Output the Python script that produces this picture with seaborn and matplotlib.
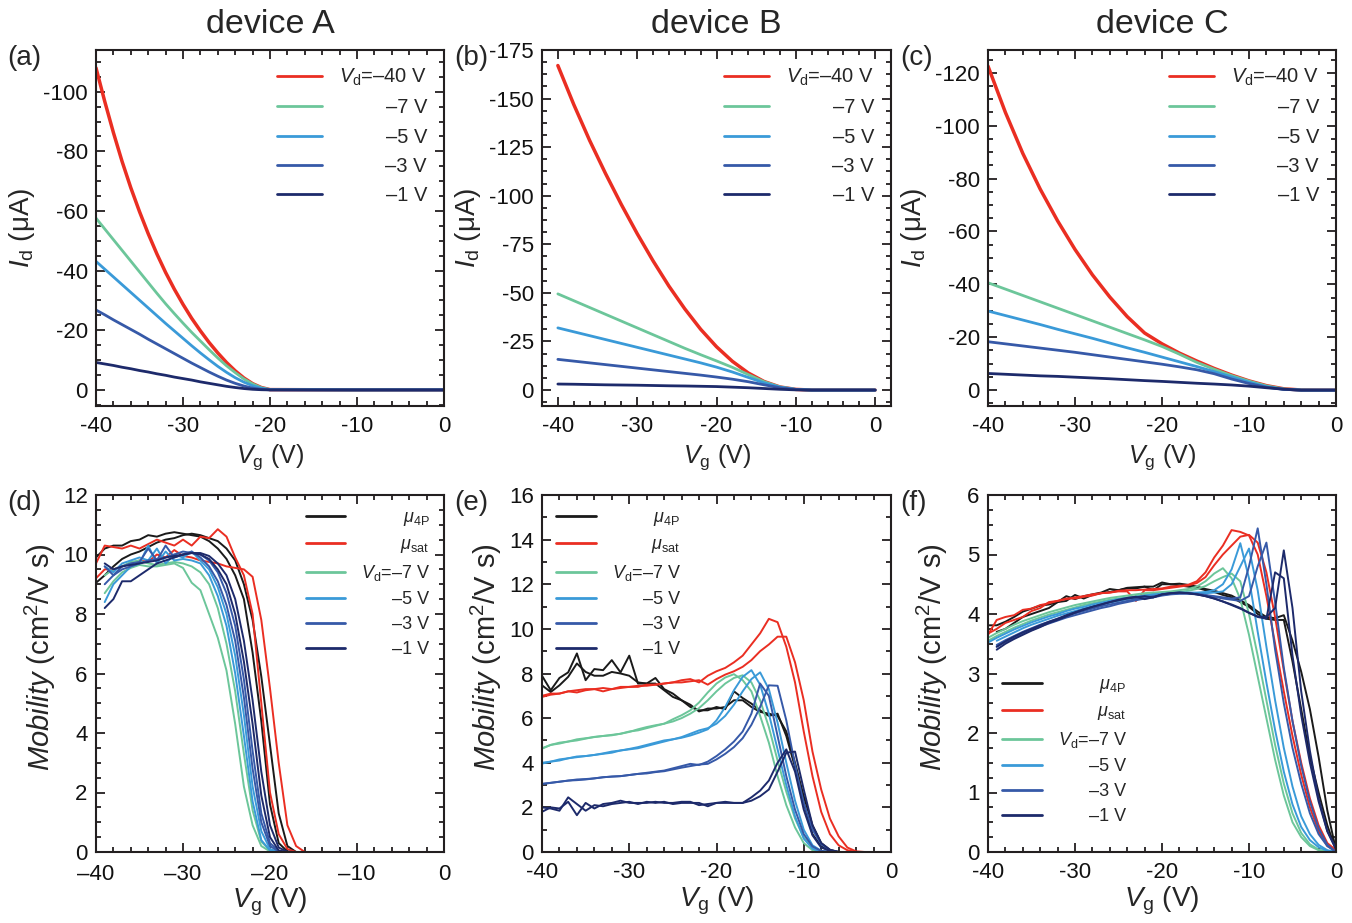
import numpy as np
import pandas as pd
import matplotlib
matplotlib.use("Agg")
import matplotlib.pyplot as plt
import seaborn as sns
from matplotlib.lines import Line2D
from matplotlib.ticker import MultipleLocator, FuncFormatter

sns.set_style("ticks")
plt.rcParams["font.family"] = ["Liberation Sans", "DejaVu Sans"]
plt.rcParams["mathtext.fontset"] = "custom"
plt.rcParams["mathtext.rm"] = "Liberation Sans"
plt.rcParams["mathtext.it"] = "Liberation Sans:italic"
plt.rcParams["mathtext.bf"] = "Liberation Sans:bold"
plt.rcParams["axes.unicode_minus"] = False

nan = np.nan

# ---------------- colours ----------------
C_BLACK = "#1a1a1a"
C_RED = "#ea2e22"
C_GREEN = "#6cc69a"
C_LBLUE = "#3a9ad8"
C_BLUE = "#3659a8"
C_NAVY = "#1d2a6b"

# ---------------- top row: transfer curves (Id in uA) ----------------
VG_A = list(range(-40, -19)) + [-10, 0]
ID_A_40 = [-108, -96.8, -86.3, -76.6, -67.8, -59.8, -52.4, -45.6, -39.4, -33.8, -28.7, -24.0, -19.8, -15.9, -12.4, -9.2, -6.4, -4.0, -2.1, -0.8, -0.1, 0, 0]
ID_A_7 = [-57.6, -54.0, -50.4, -46.8, -43.2, -39.6, -36.0, -32.4, -28.9, -25.6, -22.4, -19.3, -16.4, -13.5, -10.7, -8.1, -5.8, -3.7, -2.0, -0.75, -0.1, 0, 0]
ID_A_5 = [-43.1, -40.5, -37.9, -35.3, -32.7, -30.1, -27.5, -24.9, -22.3, -19.8, -17.3, -14.8, -12.4, -10.1, -7.9, -5.9, -4.1, -2.6, -1.4, -0.55, -0.08, 0, 0]
ID_A_3 = [-26.8, -25.2, -23.5, -21.9, -20.3, -18.7, -17.0, -15.4, -13.8, -12.2, -10.6, -9.0, -7.5, -6.0, -4.6, -3.3, -2.2, -1.3, -0.6, -0.2, -0.03, 0, 0]
ID_A_1 = [-9.2, -8.7, -8.2, -7.6, -7.1, -6.5, -6.0, -5.4, -4.9, -4.3, -3.8, -3.3, -2.7, -2.2, -1.7, -1.2, -0.8, -0.45, -0.2, -0.06, 0, 0, 0]

VG_BC = list(range(-40, 1, 2))
ID_B_40 = [-167, -147, -128.5, -111.5, -95.5, -80.5, -66.5, -53.5, -41.8, -31.3, -22.3, -14.8, -8.8, -4.4, -1.6, -0.35, 0, 0, 0, 0, 0]
ID_B_7 = [-49.5, -46, -42.5, -39, -35.5, -32, -28.5, -25, -21.5, -18.2, -15, -11.7, -8, -4.3, -1.6, -0.35, 0, 0, 0, 0, 0]
ID_B_5 = [-32, -30, -28, -26, -24, -22, -20, -18, -16, -14, -11.8, -9.3, -6.5, -3.7, -1.5, -0.35, 0, 0, 0, 0, 0]
ID_B_3 = [-15.8, -14.9, -14, -13.1, -12.2, -11.3, -10.4, -9.5, -8.6, -7.7, -6.7, -5.6, -4.3, -2.7, -1.2, -0.3, 0, 0, 0, 0, 0]
ID_B_1 = [-3.1, -3.0, -2.85, -2.7, -2.6, -2.5, -2.35, -2.2, -2.1, -1.95, -1.8, -1.5, -1.2, -0.8, -0.4, -0.1, 0, 0, 0, 0, 0]

ID_C_40 = [-122.5, -105, -89.5, -76, -64, -53.2, -43.6, -35.2, -27.8, -21.6, -17.5, -14.0, -11.0, -8.2, -5.7, -3.5, -1.7, -0.5, -0.05, 0, 0]
ID_C_7 = [-40.6, -38.2, -35.8, -33.4, -31.0, -28.6, -26.2, -23.8, -21.4, -19.0, -16.5, -13.6, -10.5, -7.9, -5.5, -3.4, -1.6, -0.45, -0.05, 0, 0]
ID_C_5 = [-29.9, -28.2, -26.5, -24.8, -23.0, -21.3, -19.6, -17.8, -16.0, -14.3, -12.5, -10.7, -8.9, -7.0, -5.0, -3.0, -1.3, -0.3, 0, 0, 0]
ID_C_3 = [-18.3, -17.5, -16.7, -15.9, -15.1, -14.3, -13.4, -12.5, -11.6, -10.7, -9.8, -8.8, -7.7, -6.2, -4.2, -2.5, -1.1, -0.3, 0, 0, 0]
ID_C_1 = [-6.3, -6.0, -5.7, -5.4, -5.2, -4.9, -4.6, -4.3, -3.95, -3.6, -3.3, -2.95, -2.6, -2.3, -1.95, -1.5, -0.9, -0.35, 0, 0, 0]

# ---------------- bottom row: mobility (cm2/Vs), two sweeps each ----------------
VG_D = list(range(-40, -15))
MU4P_D1 = [9.9, 10.2, 10.3, 10.3, 10.45, 10.5, 10.65, 10.6, 10.7, 10.75, 10.7, 10.65, 10.6, 10.45, 10.2, 9.85, 9.3, 8.5, 6.7, 4.4, 1.6, 0.3, 0.02, 0, 0]
MU4P_D2 = [9.05, 9.3, 9.6, 9.85, 10.0, 10.1, 10.25, 10.4, 10.5, 10.55, 10.65, 10.7, 10.65, 10.55, 10.45, 10.2, 9.8, 9.0, 7.8, 5.9, 3.6, 1.3, 0.2, 0, 0]
MUSAT_D1 = [9.7, 10.3, 10.25, 10.2, 10.3, 10.2, 10.35, 10.5, 10.4, 10.3, 10.5, 10.3, 10.6, 10.55, 10.85, 10.6, 9.9, 9.3, 8.0, 5.0, 2.0, 0.6, 0.1, 0, 0]
MUSAT_D2 = [9.2, 9.5, 9.5, 9.6, 9.7, 9.8, 9.75, 10.0, 9.9, 10.15, 9.95, 9.9, 9.8, 9.75, 9.7, 9.6, 9.55, 9.5, 9.25, 7.8, 5.5, 3.0, 0.9, 0.2, 0]
V7_D1 = [nan, 8.7, 9.1, 9.4, 9.55, 9.65, 9.6, 9.6, 9.65, 9.7, 9.55, 9.05, 8.8, 8.0, 7.2, 6.1, 4.3, 2.2, 0.9, 0.2, 0.02, 0, 0, 0, 0]
V7_D2 = [nan, 9.3, 9.5, 9.6, 9.75, 9.8, 9.7, 9.65, 9.7, 9.75, 9.7, 9.6, 9.4, 9.0, 8.2, 7.0, 5.4, 3.3, 1.4, 0.35, 0.05, 0, 0, 0, 0]
V5_D1 = [nan, 8.4, 9.0, 9.3, 9.6, 9.7, 10.3, 9.7, 10.1, 9.8, 9.85, 9.8, 9.7, 9.3, 8.6, 7.6, 6.0, 3.9, 1.7, 0.4, 0.05, 0, 0, 0, 0]
V5_D2 = [nan, 9.6, 9.4, 9.7, 9.8, 9.9, 9.8, 10.2, 9.7, 10.0, 9.9, 10.1, 9.8, 9.5, 8.9, 8.0, 6.6, 4.6, 2.2, 0.7, 0.1, 0, 0, 0, 0]
V3_D1 = [nan, 9.6, 9.3, 9.6, 9.7, 9.75, 10.2, 9.8, 10.3, 9.9, 10.0, 10.1, 9.9, 9.6, 9.1, 8.3, 7.1, 5.2, 2.8, 1.0, 0.2, 0.02, 0, 0, 0]
V3_D2 = [nan, 9.0, 9.3, 9.5, 9.6, 9.7, 9.8, 9.85, 9.9, 10.0, 10.1, 10.05, 10.0, 9.8, 9.4, 8.7, 7.6, 5.8, 3.4, 1.3, 0.3, 0.03, 0, 0, 0]
V1_D1 = [nan, 8.2, 8.5, 9.1, 9.1, 9.3, 9.5, 9.7, 9.8, 9.9, 10.0, 10.05, 10.0, 9.85, 9.5, 9.0, 8.0, 6.4, 4.3, 1.9, 0.5, 0.05, 0, 0, 0]
V1_D2 = [nan, 9.7, 9.5, 9.6, 9.65, 9.7, 9.75, 9.8, 9.9, 9.95, 10.0, 10.05, 10.05, 9.95, 9.7, 9.3, 8.5, 7.1, 5.1, 2.7, 0.9, 0.15, 0.01, 0, 0]

VG_E = list(range(-40, -2))
MU4P_E1 = [7.9, 7.25, 7.8, 8.05, 8.9, 7.7, 8.2, 8.15, 8.6, 8.05, 8.8, 7.55, 7.55, 7.8, 7.3, 7.1, 6.8, 6.5, 6.35, 6.35, 6.5, 6.4, 7.2, 6.9, 6.65, 6.35, 6.1, 6.2, 5.2, 3.8, 2.2, 0.8, 0.25, 0.05, 0, 0, 0, 0]
MU4P_E2 = [7.47, 7.17, 7.47, 7.85, 8.45, 8.07, 7.9, 7.9, 8.07, 8.0, 7.9, 7.6, 7.55, 7.55, 7.25, 6.95, 6.8, 6.6, 6.3, 6.43, 6.43, 6.5, 6.8, 6.8, 6.5, 6.28, 6.2, 6.1, 5.4, 4.0, 2.5, 1.2, 0.4, 0.1, 0, 0, 0, 0]
MUSAT_E1 = [7.0, 7.1, 7.1, 7.2, 7.25, 7.3, 7.3, 7.35, 7.3, 7.4, 7.4, 7.45, 7.45, 7.5, 7.55, 7.6, 7.7, 7.75, 7.6, 7.9, 8.1, 8.25, 8.5, 8.8, 9.3, 9.8, 10.45, 10.3, 9.2, 7.6, 5.4, 3.4, 1.8, 0.8, 0.3, 0.08, 0, 0]
MUSAT_E2 = [6.95, 7.05, 7.1, 7.2, 7.15, 7.25, 7.3, 7.2, 7.3, 7.35, 7.4, 7.4, 7.5, 7.5, 7.55, 7.6, 7.6, 7.65, 7.7, 7.5, 7.75, 7.95, 8.1, 8.3, 8.6, 9.0, 9.3, 9.65, 9.65, 8.5, 6.8, 4.5, 2.8, 1.5, 0.7, 0.2, 0.03, 0]
V7_E1 = [4.63, 4.8, 4.86, 4.95, 5.0, 5.08, 5.16, 5.2, 5.23, 5.3, 5.38, 5.5, 5.6, 5.68, 5.75, 5.95, 6.13, 6.35, 6.7, 7.15, 7.55, 7.82, 7.97, 7.7, 7.2, 6.1, 4.9, 3.4, 2.1, 1.1, 0.4, 0.08, 0, 0, 0, 0, 0, 0]
V7_E2 = [4.65, 4.8, 4.9, 4.95, 5.05, 5.1, 5.15, 5.2, 5.25, 5.3, 5.4, 5.45, 5.55, 5.65, 5.75, 5.85, 6.0, 6.2, 6.45, 6.8, 7.2, 7.55, 7.8, 7.92, 7.6, 6.8, 5.6, 4.1, 2.7, 1.5, 0.65, 0.2, 0.03, 0, 0, 0, 0, 0]
V5_E1 = [3.96, 4.05, 4.1, 4.2, 4.28, 4.3, 4.35, 4.42, 4.5, 4.55, 4.62, 4.7, 4.8, 4.9, 5.0, 5.05, 5.12, 5.22, 5.35, 5.5, 5.9, 6.5, 7.25, 7.85, 8.15, 7.5, 6.2, 4.6, 3.0, 1.6, 0.6, 0.15, 0, 0, 0, 0, 0, 0]
V5_E2 = [4.0, 4.05, 4.15, 4.2, 4.25, 4.3, 4.35, 4.4, 4.45, 4.55, 4.6, 4.65, 4.75, 4.85, 4.95, 5.05, 5.15, 5.3, 5.45, 5.55, 5.75, 6.1, 6.6, 7.2, 7.75, 8.05, 7.3, 5.8, 4.0, 2.3, 1.0, 0.3, 0.05, 0, 0, 0, 0, 0]
V3_E1 = [3.05, 3.1, 3.15, 3.2, 3.22, 3.25, 3.3, 3.35, 3.38, 3.4, 3.45, 3.5, 3.55, 3.6, 3.65, 3.75, 3.85, 3.95, 3.9, 4.05, 4.3, 4.6, 4.95, 5.4, 6.2, 7.55, 7.0, 5.2, 3.4, 1.9, 0.8, 0.25, 0.05, 0, 0, 0, 0, 0]
V3_E2 = [3.05, 3.1, 3.15, 3.2, 3.25, 3.27, 3.3, 3.35, 3.38, 3.4, 3.45, 3.5, 3.52, 3.58, 3.62, 3.7, 3.78, 3.85, 3.92, 3.95, 4.15, 4.4, 4.7, 5.1, 5.7, 6.5, 7.47, 7.45, 5.9, 3.9, 2.2, 1.0, 0.35, 0.08, 0, 0, 0, 0]
V1_E1 = [1.8, 2.0, 1.95, 2.25, 1.65, 2.2, 1.95, 2.15, 2.2, 2.3, 2.2, 2.2, 2.2, 2.25, 2.2, 2.2, 2.25, 2.25, 2.1, 2.15, 2.2, 2.25, 2.2, 2.2, 2.45, 2.75, 3.2, 4.0, 4.6, 3.6, 1.9, 0.75, 0.2, 0.05, 0, 0, 0, 0]
V1_E2 = [2.0, 1.95, 1.85, 2.45, 2.15, 1.85, 2.1, 2.05, 2.15, 2.2, 2.25, 2.15, 2.25, 2.2, 2.25, 2.15, 2.2, 2.2, 2.2, 2.05, 2.2, 2.2, 2.2, 2.2, 2.3, 2.5, 2.8, 3.6, 4.45, 4.5, 2.8, 1.2, 0.4, 0.1, 0, 0, 0, 0]

VG_F = list(range(-40, 1))
MU4P_F1 = [3.81, 3.81, 3.87, 3.95, 4.04, 4.09, 4.14, 4.16, 4.2, 4.22, 4.32, 4.26, 4.32, 4.35, 4.37, 4.4, 4.43, 4.43, 4.46, 4.46, 4.53, 4.5, 4.51, 4.49, 4.46, 4.42, 4.39, 4.35, 4.31, 4.23, 4.15, 4.04, 3.95, 3.93, 3.98, 3.55, 3.03, 2.4, 1.6, 0.7, 0.03]
MU4P_F2 = [nan, 3.7, 3.75, 3.85, 3.95, 4.0, 4.05, 4.1, 4.2, 4.3, 4.25, 4.3, 4.33, 4.36, 4.42, 4.4, 4.44, 4.45, 4.46, 4.4, 4.5, 4.5, 4.48, 4.46, 4.44, 4.4, 4.37, 4.32, 4.28, 4.2, 4.12, 4.0, 3.92, 3.9, 3.9, 3.2, 2.4, 1.6, 1.0, 0.45, 0.03]
MUSAT_F1 = [3.65, 3.9, 3.95, 3.98, 4.07, 4.09, 4.15, 4.18, 4.22, 4.26, 4.26, 4.29, 4.31, 4.35, 4.36, 4.39, 4.4, 4.4, 4.41, 4.42, 4.43, 4.46, 4.47, 4.49, 4.55, 4.7, 4.95, 5.15, 5.41, 5.38, 5.32, 5.0, 4.3, 3.5, 2.7, 1.95, 1.3, 0.75, 0.35, 0.1, 0.02]
MUSAT_F2 = [3.67, 3.75, 3.85, 3.9, 3.95, 4.05, 4.1, 4.2, 4.22, 4.25, 4.28, 4.3, 4.33, 4.35, 4.36, 4.38, 4.38, 4.22, 4.4, 4.4, 4.42, 4.44, 4.46, 4.48, 4.52, 4.62, 4.82, 5.0, 5.15, 5.3, 5.33, 5.2, 4.7, 3.95, 3.05, 2.2, 1.5, 0.9, 0.45, 0.15, 0.03]
V7_F1 = [3.6, 3.68, 3.75, 3.82, 3.88, 3.93, 3.98, 4.03, 4.07, 4.11, 4.15, 4.18, 4.21, 4.24, 4.27, 4.29, 4.31, 4.33, 4.35, 4.36, 4.37, 4.38, 4.4, 4.42, 4.46, 4.55, 4.68, 4.77, 4.6, 4.25, 3.65, 2.95, 2.25, 1.55, 0.95, 0.5, 0.25, 0.1, 0.03, 0, 0]
V7_F2 = [3.55, 3.63, 3.7, 3.77, 3.83, 3.89, 3.94, 3.99, 4.03, 4.07, 4.11, 4.15, 4.18, 4.21, 4.24, 4.26, 4.28, 4.3, 4.32, 4.34, 4.35, 4.36, 4.37, 4.39, 4.42, 4.47, 4.55, 4.62, 4.68, 4.55, 4.0, 3.3, 2.55, 1.8, 1.15, 0.65, 0.32, 0.13, 0.04, 0, 0]
V5_F1 = [3.52, 3.6, 3.67, 3.74, 3.8, 3.86, 3.91, 3.96, 4.0, 4.05, 4.09, 4.12, 4.16, 4.19, 4.22, 4.25, 4.27, 4.29, 4.31, 4.33, 4.34, 4.35, 4.36, 4.36, 4.36, 4.37, 4.4, 4.5, 4.75, 5.19, 4.6, 3.7, 2.85, 2.05, 1.35, 0.8, 0.42, 0.2, 0.08, 0.02, 0]
V5_F2 = [nan, 3.55, 3.62, 3.69, 3.76, 3.82, 3.87, 3.92, 3.97, 4.01, 4.05, 4.09, 4.13, 4.16, 4.19, 4.22, 4.25, 4.27, 4.29, 4.31, 4.33, 4.34, 4.35, 4.35, 4.35, 4.35, 4.36, 4.38, 4.5, 4.8, 5.1, 4.4, 3.45, 2.55, 1.75, 1.1, 0.6, 0.3, 0.12, 0.03, 0]
V3_F1 = [nan, 3.48, 3.56, 3.63, 3.7, 3.76, 3.82, 3.87, 3.92, 3.97, 4.01, 4.05, 4.09, 4.13, 4.16, 4.19, 4.22, 4.25, 4.27, 4.3, 4.32, 4.34, 4.35, 4.35, 4.34, 4.32, 4.3, 4.28, 4.26, 4.28, 4.8, 5.44, 4.5, 3.4, 2.5, 1.75, 1.15, 0.65, 0.3, 0.1, 0]
V3_F2 = [nan, 3.45, 3.53, 3.6, 3.67, 3.73, 3.79, 3.84, 3.89, 3.94, 3.98, 4.02, 4.06, 4.1, 4.13, 4.17, 4.2, 4.23, 4.26, 4.28, 4.31, 4.33, 4.34, 4.34, 4.33, 4.31, 4.29, 4.26, 4.24, 4.22, 4.3, 4.8, 5.2, 4.2, 3.1, 2.2, 1.45, 0.85, 0.4, 0.12, 0]
V1_F1 = [nan, 3.4, 3.5, 3.58, 3.65, 3.72, 3.78, 3.85, 3.9, 3.96, 4.02, 4.07, 4.12, 4.16, 4.2, 4.24, 4.27, 4.29, 4.25, 4.28, 4.33, 4.35, 4.36, 4.35, 4.33, 4.3, 4.26, 4.21, 4.16, 4.1, 4.02, 3.95, 3.92, 4.7, 4.6, 3.3, 2.3, 1.5, 0.85, 0.35, 0.05]
V1_F2 = [nan, 3.45, 3.54, 3.62, 3.69, 3.75, 3.81, 3.87, 3.92, 3.98, 4.03, 4.08, 4.12, 4.16, 4.2, 4.23, 4.26, 4.28, 4.3, 4.28, 4.33, 4.35, 4.36, 4.35, 4.33, 4.3, 4.26, 4.21, 4.15, 4.09, 4.02, 3.96, 3.95, 4.1, 5.07, 4.1, 2.7, 1.7, 0.9, 0.35, 0.05]

TOP_KEYS = ["-40", "-7", "-5", "-3", "-1"]
TOP_COLORS = [C_RED, C_GREEN, C_LBLUE, C_BLUE, C_NAVY]
TOP_LABELS = [r"$V_{\rm d}$=–40 V", "–7 V", "–5 V", "–3 V", "–1 V"]
BOT_KEYS = ["4P", "sat", "-7", "-5", "-3", "-1"]
BOT_COLORS = [C_BLACK, C_RED, C_GREEN, C_LBLUE, C_BLUE, C_NAVY]
BOT_LABELS = [r"$\mu_{\rm 4P}$", r"$\mu_{\rm sat}$", r"$V_{\rm d}$=–7 V", "–5 V", "–3 V", "–1 V"]

SPINE = "#231f20"

fig = plt.figure(figsize=(13.52, 9.23), dpi=100)
W, H = 1352.0, 923.0


def add_ax(x0, y0, x1, y1):
    return fig.add_axes([x0 / W, 1 - y1 / H, (x1 - x0) / W, (y1 - y0) / H])


ax_a = add_ax(96, 50, 444, 406)
ax_b = add_ax(542, 50, 891, 406)
ax_c = add_ax(988, 50, 1336, 406)
ax_d = add_ax(96, 495, 444, 852)
ax_e = add_ax(542, 495, 891, 852)
ax_f = add_ax(988, 495, 1336, 852)


def transfer_panel(ax, vg, curves):
    frames = [pd.DataFrame({"Vg": vg, "Id": vals, "Vd": key}) for key, vals in zip(TOP_KEYS, curves)]
    df = pd.concat(frames, ignore_index=True)
    sns.lineplot(data=df, x="Vg", y="Id", hue="Vd", hue_order=TOP_KEYS, palette=TOP_COLORS,
                 estimator=None, sort=False, legend=False, lw=2.0, ax=ax)
    ax.lines[0].set_linewidth(2.5)


def mobility_panel(ax, vg, pairs):
    frames = []
    for key, (s1, s2) in zip(BOT_KEYS, pairs):
        frames.append(pd.DataFrame({"Vg": vg, "mu": s1, "series": key, "sweep": "fwd"}))
        frames.append(pd.DataFrame({"Vg": vg, "mu": s2, "series": key, "sweep": "rev"}))
    df = pd.concat(frames, ignore_index=True)
    sns.lineplot(data=df, x="Vg", y="mu", hue="series", hue_order=BOT_KEYS, palette=BOT_COLORS,
                 units="sweep", estimator=None, sort=False, legend=False, lw=1.4, ax=ax)


def style(ax, ymaj, ymin_, labelsize, xpad, ypad):
    ax.xaxis.set_major_locator(MultipleLocator(10))
    ax.xaxis.set_minor_locator(MultipleLocator(2))
    ax.yaxis.set_major_locator(MultipleLocator(ymaj))
    ax.yaxis.set_minor_locator(MultipleLocator(ymin_))
    ax.tick_params(which="both", direction="in", top=True, right=True, color=SPINE, width=1.3)
    ax.tick_params(which="major", length=6.5, labelsize=labelsize, labelcolor="#111111")
    ax.tick_params(axis="x", which="major", pad=xpad)
    ax.tick_params(axis="y", which="major", pad=ypad)
    ax.tick_params(which="minor", length=3.5)
    for s in ax.spines.values():
        s.set_linewidth(1.5)
        s.set_color(SPINE)


# ---- top row ----
transfer_panel(ax_a, VG_A, [ID_A_40, ID_A_7, ID_A_5, ID_A_3, ID_A_1])
transfer_panel(ax_b, VG_BC, [ID_B_40, ID_B_7, ID_B_5, ID_B_3, ID_B_1])
transfer_panel(ax_c, VG_BC, [ID_C_40, ID_C_7, ID_C_5, ID_C_3, ID_C_1])

ax_a.set_xlim(-40, 0)
ax_a.set_ylim(5.4, -114)
ax_b.set_xlim(-42, 2)
ax_b.set_ylim(8.2, -175)
ax_c.set_xlim(-40, 0)
ax_c.set_ylim(6.0, -128.6)
style(ax_a, 20, 5, 16, 7, 6)
style(ax_b, 25, 6.25, 16, 7, 6)
style(ax_c, 20, 5, 16, 7, 6)

for ax, title in zip([ax_a, ax_b, ax_c], ["device A", "device B", "device C"]):
    ax.set_title(title, fontsize=24.5, pad=12.5)
    ax.set_xlabel(r"$V_{\rm g}$ (V)", fontsize=18, labelpad=4)
    ax.set_ylabel(r"$I_{\rm d}$ (μA)", fontsize=20, labelpad=4)

# ---- bottom row ----
mobility_panel(ax_d, VG_D, [(MU4P_D1, MU4P_D2), (MUSAT_D1, MUSAT_D2), (V7_D1, V7_D2),
                            (V5_D1, V5_D2), (V3_D1, V3_D2), (V1_D1, V1_D2)])
mobility_panel(ax_e, VG_E, [(MU4P_E1, MU4P_E2), (MUSAT_E1, MUSAT_E2), (V7_E1, V7_E2),
                            (V5_E1, V5_E2), (V3_E1, V3_E2), (V1_E1, V1_E2)])
mobility_panel(ax_f, VG_F, [(MU4P_F1, MU4P_F2), (MUSAT_F1, MUSAT_F2), (V7_F1, V7_F2),
                            (V5_F1, V5_F2), (V3_F1, V3_F2), (V1_F1, V1_F2)])

ax_d.set_xlim(-40, 0)
ax_d.set_ylim(0, 12)
ax_e.set_xlim(-40, 0)
ax_e.set_ylim(0, 16)
ax_f.set_xlim(-40, 0)
ax_f.set_ylim(0, 6)
style(ax_d, 2, 0.5, 16, 8.5, 6)
style(ax_e, 2, 1, 16, 7.5, 6)
style(ax_f, 1, 0.25, 16, 7.5, 6)
ax_d.xaxis.set_major_formatter(FuncFormatter(lambda v, p: f"{v:.0f}".replace("-", "–") if abs(v) > 1e-9 else "0"))

for ax in [ax_d, ax_e, ax_f]:
    ax.set_xlabel(r"$V_{\rm g}$ (V)", fontsize=20, labelpad=1)
    ax.set_ylabel(r"$Mobility$ (cm$^2$/V s)", fontsize=21)
    ax.yaxis.set_label_coords(-0.11, 0.545)

# ---- legends ----
def make_legend(ax, colors, labels, fontsize, **kw):
    handles = [Line2D([], [], color=c, lw=2.0) for c in colors]
    return ax.legend(handles, labels, frameon=False, fontsize=fontsize, **kw)


legends = []
for ax in [ax_a, ax_b, ax_c]:
    legends.append(make_legend(ax, TOP_COLORS, TOP_LABELS, 14.5, loc="upper right",
                               handlelength=2.2, handletextpad=0.85, labelspacing=0.5,
                               borderaxespad=0.55, borderpad=0.3))
legends.append(make_legend(ax_d, BOT_COLORS, BOT_LABELS, 13, loc="upper right",
                           handlelength=2.2, handletextpad=0.85, labelspacing=0.44,
                           borderaxespad=0.5, borderpad=0.3))
legends.append(make_legend(ax_e, BOT_COLORS, BOT_LABELS, 13, loc="upper left",
                           handlelength=2.2, handletextpad=0.85, labelspacing=0.44,
                           borderaxespad=0.5, borderpad=0.3))
legends.append(make_legend(ax_f, BOT_COLORS, BOT_LABELS, 13, loc="lower left",
                           bbox_to_anchor=(0.0, 0.035),
                           handlelength=2.2, handletextpad=0.85, labelspacing=0.44,
                           borderaxespad=0.5, borderpad=0.3))

# ---- panel labels ----
for (x, y, s) in [(7, 58, "(a)"), (454, 58, "(b)"), (900, 58, "(c)"),
                  (7, 503, "(d)"), (454, 503, "(e)"), (900, 503, "(f)")]:
    fig.text(x / W, 1 - y / H, s, fontsize=20, va="center", ha="left")

# right-align legend texts
fig.canvas.draw()
renderer = fig.canvas.get_renderer()
for leg in legends:
    texts = leg.get_texts()
    widths = [t.get_window_extent(renderer).width for t in texts]
    wmax = max(widths)
    for t, w in zip(texts, widths):
        t.set_ha("right")
        t.set_position((wmax - w, 0))

fig.savefig("out.png", dpi=100)
